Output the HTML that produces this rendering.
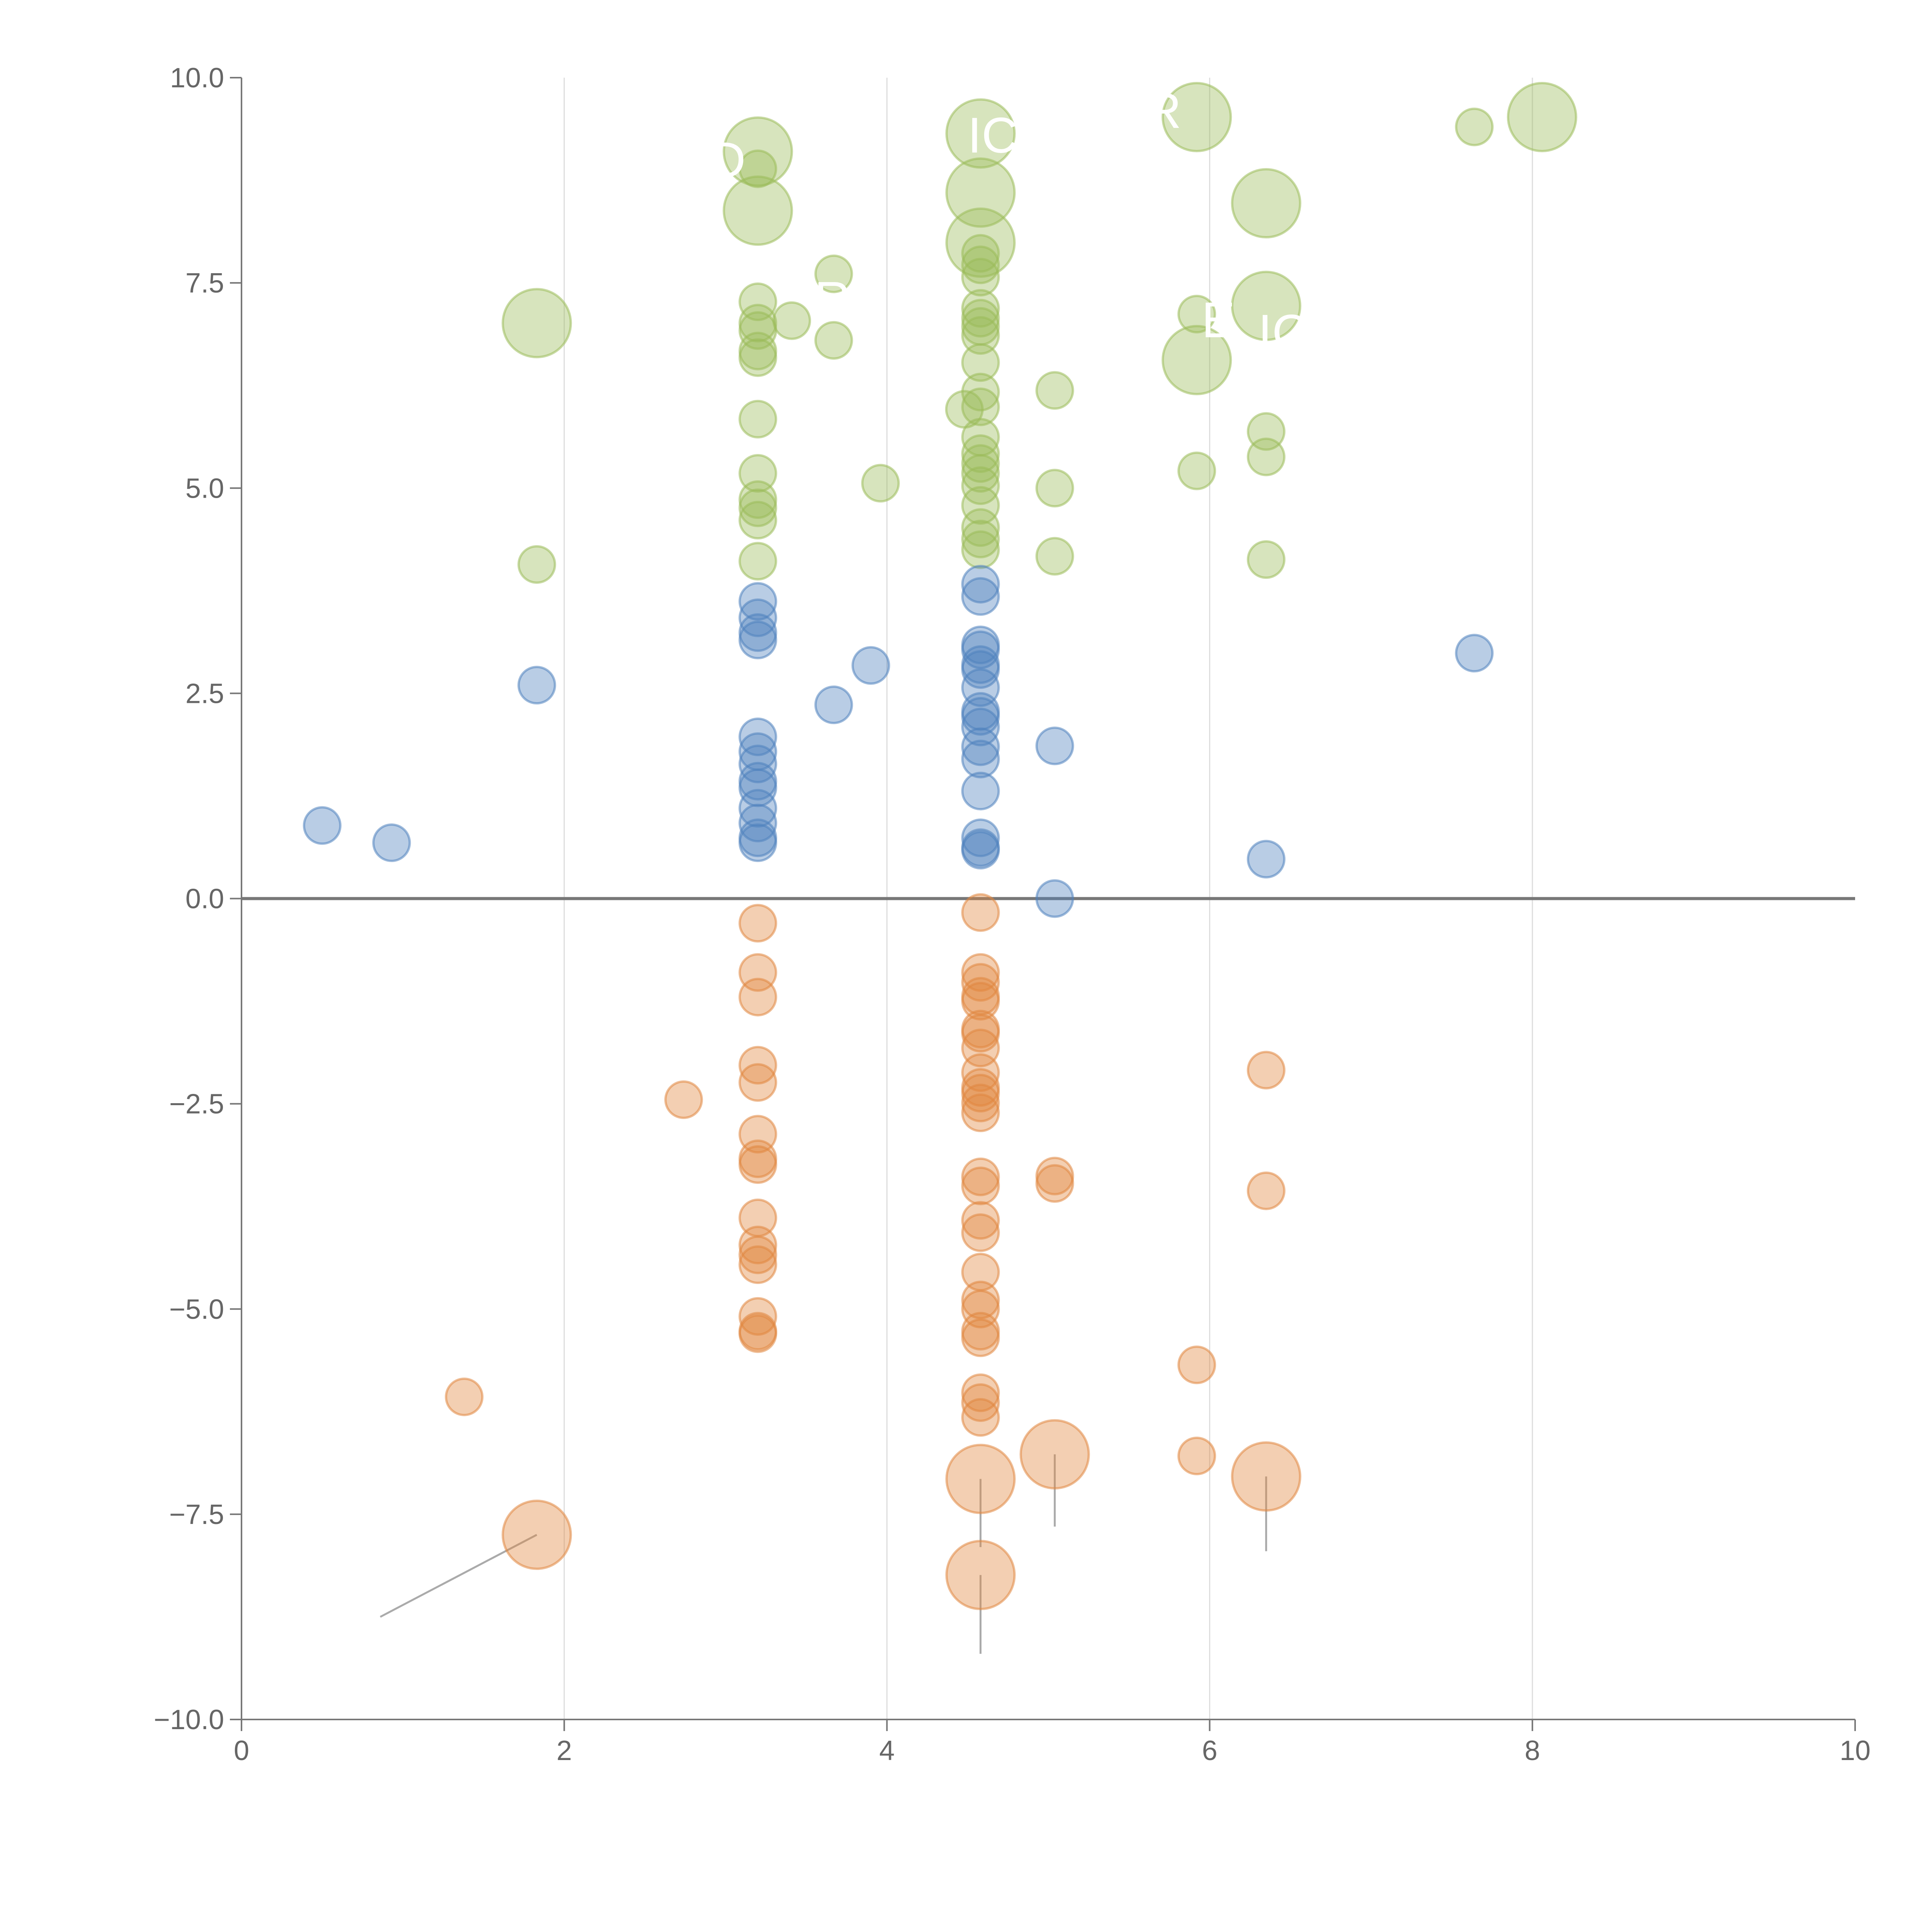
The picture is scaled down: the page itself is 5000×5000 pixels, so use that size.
<!DOCTYPE html>
<html><head><meta charset="utf-8"><style>
html,body{margin:0;padding:0;background:#fff;}
svg{display:block;font-family:"Liberation Sans",sans-serif;}
</style></head><body>
<svg id="chart" width="5000" height="5000" viewBox="0 0 5000 5000"></svg>
<script>
// ---- data ----
const greenX = [3.2,3.2,3.2,3.2,3.2,3.2,3.2,3.2,3.2,3.2,3.2,3.2,3.2,3.2, 3.41,3.67,3.67,3.96,1.83,1.83,
 4.58,4.58,4.58,4.58,4.58,4.58,4.58,4.58,4.58,4.58,4.58,4.58,4.58,4.58,4.58,4.58,4.58,4.58,4.58,4.58,4.58,4.58,4.48,
 5.04,5.04,5.04,5.92,5.92,5.92,5.92,6.35,6.35,6.35,6.35,6.35,7.64,8.06];
const greenY = [9.1,8.89,8.38,7.27,7.01,6.92,6.67,6.59,5.84,5.18,4.86,4.76,4.61,4.11, 7.04,7.61,6.8,5.06,7.01,4.07,
 9.32,8.6,7.99,7.86,7.72,7.57,7.19,7.07,6.97,6.86,6.53,6.17,5.99,5.62,5.42,5.3,5.18,5.03,4.79,4.52,4.38,4.25,5.96,
 6.19,5.0,4.17,9.52,6.56,7.12,5.21,8.47,7.22,5.69,5.38,4.13,9.4,9.52];
const greenS = [3,1,3,1,1,1,1,1,1,1,1,1,1,1, 1,1,1,1,3,1,
 3,3,3,1,1,1,1,1,1,1,1,1,1,1,1,1,1,1,1,1,1,1,1,
 1,1,1,3,3,1,1,3,3,1,1,1,1,3];
const blueX = [0.5,0.93,1.83,3.2,3.2,3.2,3.2,3.2,3.2,3.2,3.2,3.2,3.2,3.2,3.2,3.2,3.67,3.9,
 4.58,4.58,4.58,4.58,4.58,4.58,4.58,4.58,4.58,4.58,4.58,4.58,4.58,4.58,4.58,4.58,5.04,5.04,6.35,7.64];
const blueY = [0.89,0.68,2.6,3.62,3.42,3.24,3.15,1.97,1.79,1.64,1.43,1.35,1.1,0.92,0.74,0.68,2.36,2.84,
 3.83,3.68,3.09,3.03,2.85,2.79,2.57,2.28,2.22,2.09,1.85,1.7,1.31,0.74,0.62,0.59,1.86,0.0,0.48,2.99];
const orangeX = [3.2,3.2,3.2,3.2,3.2,3.2,3.2,3.2,3.2,3.2,3.2,3.2,3.2,3.2,3.2,2.74,1.38,1.83,
 4.58,4.58,4.58,4.58,4.58,4.58,4.58,4.58,4.58,4.58,4.58,4.58,4.58,4.58,4.58,4.58,4.58,4.58,4.58,4.58,4.58,4.58,4.58,4.58,4.58,4.58,4.58,
 5.04,5.04,5.04,5.92,5.92,6.35,6.35,6.35];
const orangeY = [-0.3,-0.9,-1.2,-2.03,-2.24,-2.87,-3.17,-3.24,-3.89,-4.22,-4.34,-4.46,-5.09,-5.27,-5.3,-2.45,-6.07,-7.75,
 -0.17,-0.9,-1.02,-1.19,-1.25,-1.59,-1.64,-1.82,-2.12,-2.3,-2.37,-2.49,-2.61,-3.39,-3.5,-3.92,-4.07,-4.55,-4.89,-5.0,-5.27,-5.35,-6.02,-6.14,-6.32,-7.07,-8.24,
 -3.38,-3.47,-6.77,-5.68,-6.79,-2.09,-3.56,-7.04];
const orangeS = [1,1,1,1,1,1,1,1,1,1,1,1,1,1,1,1,1,3,
 1,1,1,1,1,1,1,1,1,1,1,1,1,1,1,1,1,1,1,1,1,1,1,1,1,3,3,
 1,1,3,1,1,1,1,3];
const xTicks = [0,2,4,6,8,10];
const yTicks = [-10,-7.5,-5,-2.5,0,2.5,5,7.5,10];

// ---- scales ----
const X0=625, X1=4801, Y0=4450, Y1=201;
const xs = v => X0 + (v-0)/(10-0)*(X1-X0);
const ys = v => Y0 - (v+10)/20*(Y0-Y1);
const rs = s => s===3 ? 88 : 47;
const NS="http://www.w3.org/2000/svg";
const svg=document.getElementById('chart');
function mk(tag,attrs,parent){const e=document.createElementNS(NS,tag);for(const k in attrs)e.setAttribute(k,attrs[k]);(parent||svg).appendChild(e);return e;}

// grid
const grid=mk('g',{});


xTicks.forEach(t=>{ if(t>0&&t<10){const l=mk('line',{x1:xs(t),x2:xs(t),y1:Y1,y2:Y0,stroke:'#dddddd','stroke-width':3},grid);
 
 }});

// axes
const ax=mk('g',{});


mk('line',{x1:X0,x2:X0,y1:Y1,y2:Y0,stroke:'#777','stroke-width':4},ax);
mk('line',{x1:X0,x2:X1,y1:Y0,y2:Y0,stroke:'#777','stroke-width':4},ax);
xTicks.forEach(t=>{mk('line',{x1:xs(t),x2:xs(t),y1:Y0,y2:Y0+30,stroke:'#777','stroke-width':4},ax);
 const tx=mk('text',{x:xs(t),y:Y0+105,'text-anchor':'middle','font-size':72,fill:'#666'},ax);tx.textContent=t;
 
 });
yTicks.forEach(t=>{mk('line',{x1:X0-30,x2:X0,y1:ys(t),y2:ys(t),stroke:'#777','stroke-width':4},ax);
 const tx=mk('text',{x:X0-45,y:ys(t)+25,'text-anchor':'end','font-size':72,fill:'#666'},ax);tx.textContent=(t<0?'\u2212':'')+Math.abs(t).toFixed(1);
 
 });
mk('line',{x1:X0,x2:X1,y1:ys(0),y2:ys(0),stroke:'#777','stroke-width':8},ax);

// leader lines
const ll=mk('g',{stroke:'#aaa','stroke-width':5});


[[1.83,-7.75,0.86,-8.75],[4.58,-7.07,4.58,-7.9],[4.58,-8.24,4.58,-9.2],[5.04,-6.77,5.04,-7.65],[6.35,-7.04,6.35,-7.95]].forEach(a=>{
 mk('line',{x1:xs(a[0]),y1:ys(a[1]),x2:xs(a[2]),y2:ys(a[3])},ll);});

function series(X,Y,S,color,name){
 const g=mk('g',{});
 
 
 X.forEach((x,i)=>{const c=mk('circle',{cx:xs(x),cy:ys(Y[i]),r:rs(S?S[i]:1),fill:color,'fill-opacity':0.4,stroke:color,'stroke-opacity':0.55,'stroke-width':6},g);
  
  });
}
series(greenX,greenY,greenS,'#9bbb59','green-series');
series(blueX,blueY,null,'#4f81bd','blue-series');
series(orangeX,orangeY,orangeS,'#e0873f','orange-series');

// white labels (mostly hidden on white)
const lb=mk('g',{fill:'#fff','font-size':130});


[[4.5,9.3,'IC'],[5.6,9.6,'R'],[3.55,7.3,'R'],[5.95,7.05,'E'],[6.3,6.9,'IC'],[2.9,9.0,'D']].forEach(a=>{
 const t=mk('text',{x:xs(a[0]),y:ys(a[1])+45},lb);t.textContent=a[2];
 
 });
</script>
</body></html>
